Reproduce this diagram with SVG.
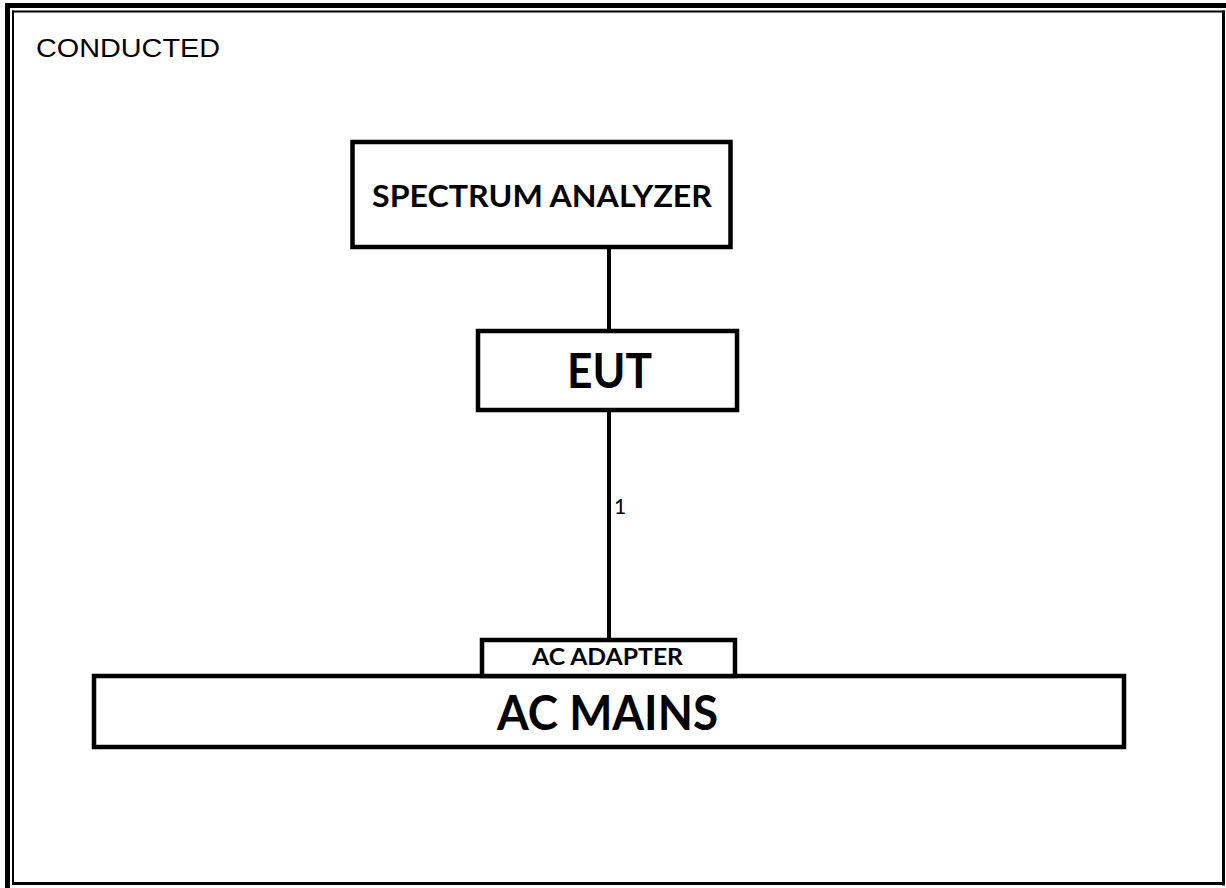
<svg xmlns="http://www.w3.org/2000/svg" width="1226" height="888" viewBox="0 0 1226 888">
<style>
.box{fill:#fff;stroke:#000;stroke-width:4.5}
.lbl{font-family:Lato,"Open Sans",sans-serif;font-weight:bold;fill:#000;text-anchor:middle}
.wire{stroke:#000;stroke-width:4;fill:none}
</style>
<rect width="1226" height="888" fill="#fff"/>
<g id="frame">
<rect x="5" y="3" width="1221" height="5" fill="#000"/>
<rect x="5" y="3" width="5" height="885" fill="#000"/>
<rect x="12" y="10.5" width="2" height="874" fill="#000"/>
<rect x="12" y="10.5" width="1213" height="2" fill="#000"/>
<rect x="1222" y="10.5" width="3" height="875" fill="#000"/>
<rect x="12" y="882" width="1213" height="3" fill="#000"/>
</g>
<text id="title" x="36" y="57" font-family="'Liberation Sans',Arial,sans-serif" font-size="26" textLength="184" lengthAdjust="spacingAndGlyphs">CONDUCTED</text>
<g id="connectors">
<line class="wire" x1="609" y1="247" x2="609" y2="331"/>
<line class="wire" x1="609" y1="410" x2="609" y2="640"/>
<text x="614" y="514" font-family="Lato,'Open Sans',sans-serif" font-size="21" fill="#000">1</text>
</g>
<g id="spectrum-analyzer">
<rect class="box" x="352.5" y="142" width="378" height="105"/>
<text class="lbl" x="542" y="207" font-size="30.5" textLength="340" lengthAdjust="spacingAndGlyphs">SPECTRUM  ANALYZER</text>
</g>
<g id="eut">
<rect class="box" x="478" y="331" width="259" height="79"/>
<text class="lbl" x="609.5" y="388" font-size="48" textLength="85" lengthAdjust="spacingAndGlyphs">EUT</text>
</g>
<g id="ac-mains">
<rect class="box" x="94" y="676" width="1030" height="71"/>
<text class="lbl" x="607.5" y="730" font-size="47" textLength="221" lengthAdjust="spacingAndGlyphs">AC MAINS</text>
</g>
<g id="ac-adapter">
<rect class="box" x="482" y="640" width="253" height="36"/>
<text class="lbl" x="607.5" y="665" font-size="22" textLength="151" lengthAdjust="spacingAndGlyphs">AC ADAPTER</text>
</g>
</svg>
